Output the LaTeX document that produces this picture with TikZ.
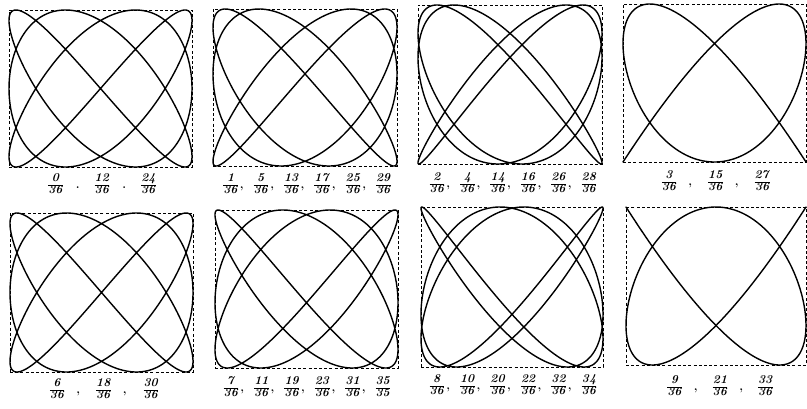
\documentclass[tikz,border=0pt]{standalone}
\usepackage{amsmath}
\setlength\arrayrulewidth{0.7pt}
\newcommand\fr[2]{{\renewcommand\arraystretch{0.72}\begin{tabular}[c]{@{}c@{}}\textit{#1}\\\hline\textit{#2}\end{tabular}}}
\newcommand\cm{\hspace{2pt},\hspace{10pt}}
\newcommand\lissa[6]{% x1 y1 x2 y2 k name
  \node[framebox, minimum width={#3-#1}, minimum height={#4-#2}] (#6) at ({(#1+#3)/2},{(#2+#4)/2}) {};
  \draw[curve] plot[domain=0:360,samples=721,variable=\t]
    ({(#1+#3)/2 + (#3-#1)/2*sin(3*\t)}, {(#2+#4)/2 - (#4-#2)/2*sin(4*\t+10*#5)});
}
\begin{document}
\begin{tikzpicture}[x=1pt,y=-1pt,
  framebox/.style={draw=black, line width=0.6pt, dash pattern=on 3pt off 2.2pt, inner sep=0pt, outer sep=0pt},
  curve/.style={draw=black, line width=1.4pt, line join=round},
  lab/.style={font=\fontsize{12}{14}\selectfont\bfseries, inner sep=0pt}]
\useasboundingbox[fill=white] (0,0) rectangle (807,408);
\lissa{9}{10}{192}{167}{0}{p1}
\lissa{213}{9}{397}{166}{1}{p2}
\lissa{418}{5}{602}{164}{2}{p3}
\lissa{623}{4}{806}{162}{3}{p4}
\lissa{10}{213}{193}{372}{6}{p5}
\lissa{215}{210}{398}{368}{7}{p6}
\lissa{421}{207}{603}{367}{8}{p7}
\lissa{626}{207}{806}{365}{9}{p8}
\node[lab] (l1) at (102,185) {\fr{0}{36}\hspace{13pt}.\hspace{15pt}\fr{12}{36}\hspace{13pt}.\hspace{15pt}\fr{24}{36}};
\node[lab] (l2) at (307,185) {\fr{1}{36}\cm\fr{5}{36}\cm\fr{13}{36}\cm\fr{17}{36}\cm\fr{25}{36}\cm\fr{29}{36}};
\node[lab] (l3) at (513,184) {\fr{2}{36}\cm\fr{4}{36}\cm\fr{14}{36}\cm\fr{16}{36}\cm\fr{26}{36}\cm\fr{28}{36}};
\node[lab] (l4) at (716,182) {\fr{3}{36}\hspace{12pt},\hspace{16pt}\fr{15}{36}\hspace{12pt},\hspace{16pt}\fr{27}{36}};
\node[lab] (l5) at (104,390) {\fr{6}{36}\hspace{12pt},\hspace{16pt}\fr{18}{36}\hspace{12pt},\hspace{17pt}\fr{30}{36}};
\node[lab] (l6) at (307,388) {\fr{7}{36}\cm\fr{11}{36}\cm\fr{19}{36}\cm\fr{23}{36}\cm\fr{31}{36}\cm\fr{35}{35}};
\node[lab] (l7) at (513,386) {\fr{8}{36}\cm\fr{10}{36}\cm\fr{20}{36}\cm\fr{22}{36}\cm\fr{32}{36}\cm\fr{34}{36}};
\node[lab] (l8) at (720,387) {\fr{9}{36}\hspace{12pt},\hspace{15pt}\fr{21}{36}\hspace{12pt},\hspace{15pt}\fr{33}{36}};
\end{tikzpicture}
\end{document}
